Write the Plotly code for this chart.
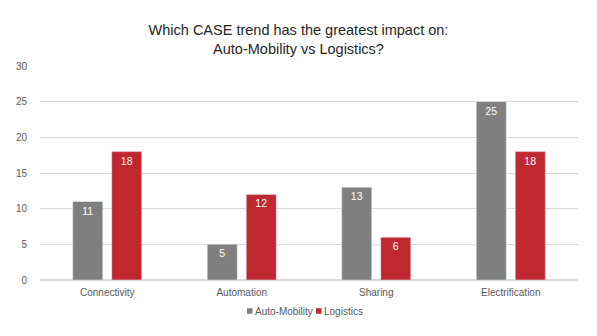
import plotly.graph_objects as go

categories = ["Connectivity", "Automation", "Sharing", "Electrification"]
auto_mobility = [11, 5, 13, 25]
logistics = [18, 12, 6, 18]
series_names = ["Auto-Mobility", "Logistics"]

GRAY = "#7f7f7f"
RED = "#c0282f"
FONT = "Liberation Sans, Arial, sans-serif"

fig = go.Figure()
for name, vals, col in zip(series_names, [auto_mobility, logistics], [GRAY, RED]):
    fig.add_trace(go.Bar(
        name=name, x=categories, y=vals, marker_color=col,
        text=vals, textposition="inside", insidetextanchor="end",
        textfont=dict(color="white", size=10.5, family=FONT),
    ))

# plot area in pixels: x 40..578, y 66..280
L, R, T, B = 40, 19, 66, 56
W, H = 597, 336
pw, ph = W - L - R, H - T - B

def px_x(px):
    return (px - L) / pw

def px_y(py):
    return (H - B - py) / ph

# compact legend: small square swatch followed by the series name
legend_items = [(247, GRAY, series_names[0]), (316, RED, series_names[1])]
yc = 311
for x0, col, name in legend_items:
    fig.add_shape(type="rect", xref="paper", yref="paper",
                  x0=px_x(x0), x1=px_x(x0 + 5.5), y0=px_y(yc + 2.75), y1=px_y(yc - 2.75),
                  fillcolor=col, line_width=0)
    fig.add_annotation(xref="paper", yref="paper", x=px_x(x0 + 5.5), y=px_y(yc),
                       xanchor="left", yanchor="middle", text=name, showarrow=False,
                       font=dict(size=10, color="#595959", family=FONT))

fig.update_layout(
    width=W, height=H,
    margin=dict(l=L, r=R, t=T, b=B),
    paper_bgcolor="white", plot_bgcolor="white",
    font=dict(family=FONT, color="#595959", size=10),
    title=dict(
        text="Which CASE trend has the greatest impact on:<br>Auto-Mobility vs Logistics?",
        x=0.5, xanchor="center", y=1 - 35 / H, yanchor="top",
        font=dict(size=14.5, color="#262626", family=FONT),
    ),
    barmode="group", bargap=0.42, bargroupgap=0.23,
    showlegend=False,
    uniformtext=dict(mode="show", minsize=10),
)
fig.update_yaxes(range=[0, 30], dtick=5, showgrid=True, gridcolor="#d9d9d9",
                 zeroline=True, zerolinecolor="#d9d9d9", showline=False,
                 ticks="", ticklabelstandoff=12, automargin=False)
fig.update_xaxes(showgrid=False, showline=False, ticks="", ticklabelstandoff=5,
                 automargin=False)

fig.write_html("out.html")
